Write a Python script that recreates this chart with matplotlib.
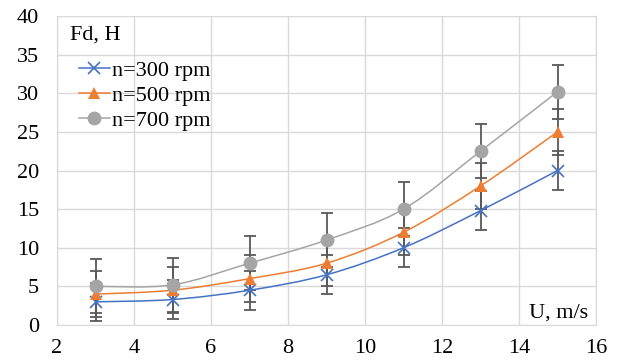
import matplotlib.pyplot as plt
import numpy as np
from matplotlib.path import Path
from matplotlib.patches import PathPatch
from matplotlib.lines import Line2D

plt.rcParams['font.family'] = ['Liberation Serif', 'DejaVu Serif']

speed = [3, 5, 7, 9, 11, 13, 15]
f_300 = [3.0, 3.3, 4.5, 6.5, 10.0, 14.8, 20.0]
f_500 = [4.0, 4.5, 6.0, 8.0, 12.0, 18.0, 25.0]
f_700 = [5.0, 5.2, 8.0, 11.0, 15.0, 22.5, 30.2]
err_300 = 2.5
err_500 = 3.0
err_700 = 3.5
labels = ['n=300 rpm', 'n=500 rpm', 'n=700 rpm']


def smooth_path(x, y, t=1 / 6):
    # Excel-like smoothed line: Catmull-Rom turned into cubic Bezier segments
    pts = np.column_stack([x, y]).astype(float)
    verts = [pts[0]]
    codes = [Path.MOVETO]
    n = len(pts)
    for i in range(n - 1):
        p0 = pts[i - 1] if i > 0 else pts[i]
        p1 = pts[i]
        p2 = pts[i + 1]
        p3 = pts[i + 2] if i + 2 < n else pts[i + 1]
        c1 = p1 + (p2 - p0) * t
        c2 = p2 - (p3 - p1) * t
        verts += [c1, c2, p2]
        codes += [Path.CURVE4] * 3
    return Path(verts, codes)


fig = plt.figure(figsize=(6.19, 3.63), dpi=100)
ax = fig.add_axes([57 / 619, 1 - 325 / 363, 539 / 619, 309 / 363])

series = [
    (f_300, err_300, '#4472C4', 'x', 9, 1.2),
    (f_500, err_500, '#ED7D31', '^', 9, 0),
    (f_700, err_700, '#A5A5A5', 'o', 10, 0),
]

handles = []
for (vals, err, color, marker, ms, mew), lab in zip(series, labels):
    ax.add_patch(PathPatch(smooth_path(speed, vals), facecolor='none',
                           edgecolor=color, lw=1.1, zorder=3))
    ax.errorbar(speed, vals, yerr=err, fmt='none', ecolor='#595959',
                elinewidth=1.3, capsize=4, capthick=1.3, zorder=2)
    ax.plot(speed, vals, linestyle='none', marker=marker, color=color,
            markersize=ms, markeredgewidth=mew, zorder=4)
    handles.append(Line2D([], [], color=color, lw=1.1, marker=marker,
                          markersize=ms, markeredgewidth=mew))

ax.set_xlim(2, 16)
ax.set_ylim(0, 40)
ax.set_xticks(range(2, 17, 2))
ax.set_yticks(range(0, 41, 5))
ax.grid(True, color='#D9D9D9', lw=1.0)
ax.set_axisbelow(True)
for s in ax.spines.values():
    s.set_color('#D9D9D9')
ax.tick_params(length=0, labelsize=16, colors='black', pad=13)
ax.tick_params(axis='x', pad=10)

ax.text(0.025, 0.925, 'Fd, H', transform=ax.transAxes, fontsize=16)
ax.text(0.985, 0.025, 'U, m/s', transform=ax.transAxes, fontsize=16, ha='right')

ax.legend(handles, labels, loc='upper left', bbox_to_anchor=(0.024, 0.885),
          frameon=False, fontsize=16, handlelength=1.4, handletextpad=0.1,
          labelspacing=0.2, borderaxespad=0)

fig.savefig('out.png', dpi=100)
